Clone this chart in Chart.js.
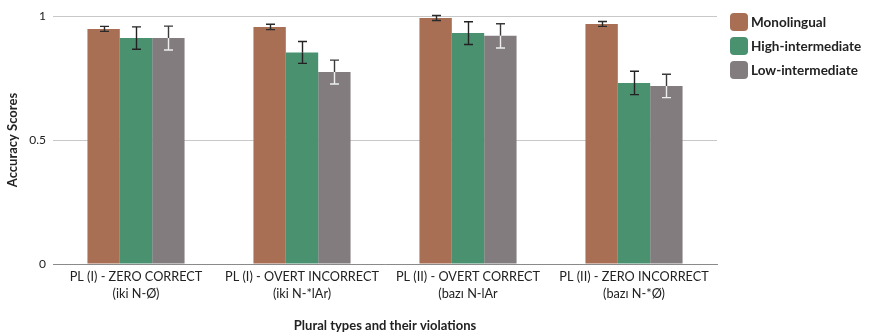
<!DOCTYPE html>
<html>
<head>
<meta charset="utf-8">
<script src="https://cdn.jsdelivr.net/npm/chart.js@4/dist/chart.umd.min.js"></script>
<style>
  html, body { margin: 0; padding: 0; background: #fff; }
  #wrap { position: relative; width: 870px; height: 332px; }
  #legend { position: absolute; left: 730px; top: 13px; font-family: Lato, sans-serif; font-weight: bold; font-size: 13.5px; color: #222; white-space: nowrap; }
  .item { display: flex; align-items: center; height: 18px; margin-bottom: 6px; }
  .sw { width: 18px; height: 18px; border-radius: 4px; margin-right: 3px; flex: none; }
</style>
</head>
<body>
<div id="wrap">
  <canvas id="c" width="870" height="332"></canvas>
  <div id="legend"></div>
</div>
<script>
const categories = [
  ['PL (I) - ZERO CORRECT', '(iki N-Ø)'],
  ['PL (I) - OVERT INCORRECT', '(iki N-*lAr)'],
  ['PL (II) - OVERT CORRECT', '(bazı N-lAr'],
  ['PL (II) - ZERO INCORRECT', '(bazı N-*Ø)']
];
const seriesNames = ['Monolingual', 'High-intermediate', 'Low-intermediate'];
const monolingual = [0.948, 0.956, 0.992, 0.968];
const highIntermediate = [0.911, 0.853, 0.931, 0.730];
const lowIntermediate = [0.911, 0.774, 0.920, 0.718];
const monolingualErr = [0.010, 0.011, 0.010, 0.010];
const highIntermediateErr = [0.045, 0.044, 0.046, 0.047];
const lowIntermediateErr = [0.048, 0.048, 0.049, 0.047];
const yTicks = [0, 0.5, 1];
const yTickLabels = ['0', '0.5', '1'];

const colors = ['#a86f55', '#4a9170', '#827c7e'];
const errs = [monolingualErr, highIntermediateErr, lowIntermediateErr];
// whisker colour above / inside the bar for each series
const whiskerOut = ['#2a2a2a', '#222', '#3a3a3a'];
const whiskerIn = ['#2a2a2a', '#222', '#eeeeee'];

const FONT = "Lato, sans-serif";

const errorBars = {
  id: 'errorBars',
  afterDatasetsDraw(chart) {
    const ctx = chart.ctx;
    const y = chart.scales.y;
    chart.data.datasets.forEach((ds, di) => {
      const meta = chart.getDatasetMeta(di);
      meta.data.forEach((bar, i) => {
        const v = ds.data[i], e = errs[di][i];
        const x = Math.round(bar.x) + 0.5;
        const top = y.getPixelForValue(v + e);
        const bot = y.getPixelForValue(v - e);
        const barTop = y.getPixelForValue(v);
        ctx.save();
        ctx.lineWidth = 1.4;
        ctx.strokeStyle = whiskerOut[di];
        ctx.beginPath();
        ctx.moveTo(x, top); ctx.lineTo(x, barTop);
        ctx.moveTo(x - 4.5, top); ctx.lineTo(x + 4.5, top);
        ctx.stroke();
        ctx.strokeStyle = whiskerIn[di];
        ctx.beginPath();
        ctx.moveTo(x, barTop); ctx.lineTo(x, bot);
        ctx.moveTo(x - 4.5, bot); ctx.lineTo(x + 4.5, bot);
        ctx.stroke();
        ctx.restore();
      });
    });
  }
};

const seriesValues = [monolingual, highIntermediate, lowIntermediate];

new Chart(document.getElementById('c'), {
  type: 'bar',
  data: {
    labels: categories,
    datasets: seriesValues.map((vals, i) => ({
      label: seriesNames[i],
      data: vals,
      backgroundColor: colors[i],
      borderWidth: 0,
      categoryPercentage: 0.585,
      barPercentage: 1.0
    }))
  },
  options: {
    responsive: false,
    animation: false,
    devicePixelRatio: 1,
    layout: { padding: { left: 0, right: 153, top: 16, bottom: 0 } },
    plugins: {
      legend: { display: false },
      tooltip: { enabled: false }
    },
    scales: {
      x: {
        grid: { display: false, drawTicks: false },
        border: { display: true, color: '#8a8a8a', width: 1 },
        ticks: { color: '#222', font: { family: FONT, size: 12.7, lineHeight: 1.3 }, padding: 5, maxRotation: 0, autoSkip: false },
        title: { display: true, text: 'Plural types and their violations', color: '#222', font: { family: FONT, size: 13, weight: 'bold', lineHeight: 0.9 }, padding: { top: 0, bottom: 0 } },
        afterFit(s) { s.height = 68; }
      },
      y: {
        min: 0, max: 1,
        afterBuildTicks(s) { s.ticks = yTicks.map(v => ({ value: v })); },
        grid: { color: '#c8c8c8', drawTicks: false, lineWidth: 1 },
        border: { display: false },
        ticks: {
          color: '#222', font: { family: FONT, size: 12 }, padding: 7,
          callback: (v, i) => yTickLabels[i]
        },
        title: { display: true, text: 'Accuracy Scores', color: '#222', font: { family: FONT, size: 13, weight: 'bold' }, padding: { top: 5, bottom: 4 } },
        afterFit(s) { s.width = 53; }
      }
    }
  },
  plugins: [errorBars]
});

const legend = document.getElementById('legend');
seriesNames.forEach((n, i) => {
  const it = document.createElement('div');
  it.className = 'item';
  const sw = document.createElement('span');
  sw.className = 'sw';
  sw.style.background = colors[i];
  const t = document.createElement('span');
  t.textContent = n;
  it.appendChild(sw); it.appendChild(t);
  legend.appendChild(it);
});
</script>
</body>
</html>
